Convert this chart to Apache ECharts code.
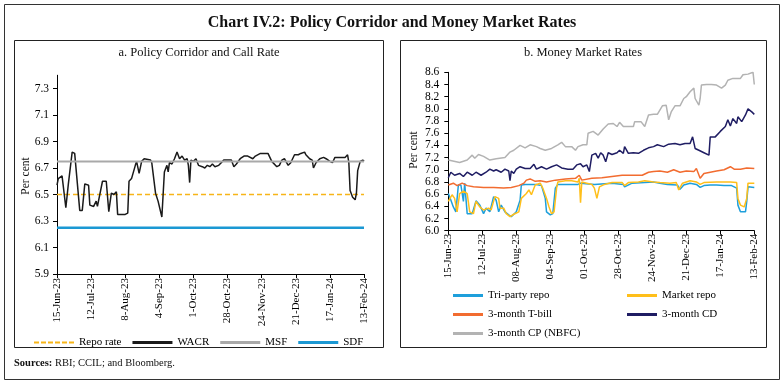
<!DOCTYPE html>
<html>
<head>
<meta charset="utf-8">
<script src="https://cdn.jsdelivr.net/npm/echarts@6/dist/echarts.min.js"></script>
<style>html,body{margin:0;padding:0;background:#fff;}#c{width:784px;height:385px;}</style>
</head>
<body>
<div id="c"></div>
<script>
// ---------- DATA ----------
const startDate = '2023-06-15';
const leftTickLabels = ['15-Jun-23','12-Jul-23','8-Aug-23','4-Sep-23','1-Oct-23','28-Oct-23','24-Nov-23','21-Dec-23','17-Jan-24','13-Feb-24'];
const rightTickLabels = ['15-Jun-23','12-Jul-23','08-Aug-23','04-Sep-23','01-Oct-23','28-Oct-23','24-Nov-23','21-Dec-23','17-Jan-24','13-Feb-24'];
const leftYTicks = [5.9, 6.1, 6.3, 6.5, 6.7, 6.9, 7.1, 7.3];

const repoRate = [['2023-06-15', 6.50], ['2024-02-13', 6.50]];
const msfRate  = [['2023-06-15', 6.75], ['2024-02-13', 6.75]];
const sdfRate  = [['2023-06-15', 6.25], ['2024-02-13', 6.25]];

const wacr = [
['2023-06-15',6.57],['2023-06-16',6.62],['2023-06-19',6.64],['2023-06-22',6.40],['2023-06-24',6.58],
['2023-06-27',6.82],['2023-06-29',6.81],['2023-07-03',6.38],['2023-07-05',6.38],['2023-07-07',6.58],
['2023-07-10',6.57],['2023-07-11',6.42],['2023-07-14',6.41],['2023-07-16',6.45],['2023-07-17',6.41],
['2023-07-21',6.60],['2023-07-24',6.60],['2023-07-26',6.37],['2023-07-28',6.51],['2023-07-30',6.50],
['2023-08-01',6.52],['2023-08-02',6.35],['2023-08-08',6.35],['2023-08-10',6.36],['2023-08-11',6.60],
['2023-08-13',6.62],['2023-08-16',6.72],['2023-08-17',6.75],['2023-08-19',6.66],['2023-08-21',6.75],
['2023-08-23',6.77],['2023-08-28',6.76],['2023-08-29',6.74],['2023-09-01',6.51],['2023-09-03',6.45],
['2023-09-06',6.33],['2023-09-08',6.67],['2023-09-10',6.72],['2023-09-11',6.67],['2023-09-12',6.74],
['2023-09-14',6.73],['2023-09-16',6.77],['2023-09-18',6.82],['2023-09-20',6.77],['2023-09-22',6.79],
['2023-09-24',6.76],['2023-09-26',6.77],['2023-09-27',6.72],['2023-09-28',6.59],['2023-09-29',6.76],
['2023-10-01',6.75],['2023-10-03',6.77],['2023-10-05',6.72],['2023-10-08',6.71],['2023-10-10',6.70],
['2023-10-12',6.72],['2023-10-14',6.71],['2023-10-16',6.73],['2023-10-18',6.71],['2023-10-21',6.72],
['2023-10-23',6.74],['2023-10-25',6.76],['2023-10-29',6.76],['2023-10-31',6.76],['2023-11-02',6.71],
['2023-11-04',6.73],['2023-11-07',6.77],['2023-11-10',6.79],['2023-11-13',6.79],['2023-11-17',6.77],
['2023-11-19',6.79],['2023-11-23',6.81],['2023-11-26',6.81],['2023-11-29',6.81],['2023-12-02',6.75],
['2023-12-06',6.71],['2023-12-08',6.72],['2023-12-10',6.76],['2023-12-12',6.77],['2023-12-15',6.72],
['2023-12-17',6.74],['2023-12-20',6.80],['2023-12-23',6.80],['2023-12-25',6.81],['2023-12-28',6.82],
['2023-12-29',6.80],['2024-01-01',6.77],['2024-01-03',6.76],['2024-01-04',6.70],['2024-01-06',6.74],
['2024-01-09',6.77],['2024-01-12',6.78],['2024-01-14',6.77],['2024-01-17',6.75],['2024-01-19',6.74],
['2024-01-21',6.78],['2024-01-25',6.78],['2024-01-29',6.78],['2024-01-31',6.80],['2024-02-01',6.74],
['2024-02-02',6.53],['2024-02-04',6.48],['2024-02-06',6.46],['2024-02-07',6.51],['2024-02-08',6.68],
['2024-02-10',6.75],['2024-02-12',6.76],['2024-02-13',6.75]
];

const triPartyRepo = [
['2023-06-15',6.61],['2023-06-16',6.56],['2023-06-19',6.39],['2023-06-21',6.31],['2023-06-23',6.75],
['2023-06-25',6.75],['2023-06-27',6.48],['2023-06-28',6.78],['2023-06-30',6.28],['2023-07-04',6.28],
['2023-07-07',6.49],['2023-07-10',6.42],['2023-07-13',6.28],['2023-07-15',6.37],['2023-07-18',6.31],
['2023-07-21',6.56],['2023-07-23',6.50],['2023-07-25',6.31],['2023-07-27',6.42],['2023-07-30',6.31],
['2023-08-02',6.26],['2023-08-04',6.23],['2023-08-08',6.31],['2023-08-11',6.50],['2023-08-12',6.75],
['2023-08-15',6.76],['2023-08-19',6.76],['2023-08-24',6.76],['2023-08-28',6.74],['2023-08-31',6.53],
['2023-09-01',6.31],['2023-09-04',6.26],['2023-09-06',6.28],['2023-09-08',6.70],['2023-09-10',6.76],
['2023-09-26',6.76],['2023-09-28',6.78],['2023-10-09',6.76],['2023-10-23',6.78],['2023-11-01',6.76],
['2023-11-02',6.72],['2023-11-08',6.78],['2023-11-18',6.79],['2023-11-25',6.80],['2023-11-30',6.78],
['2023-12-06',6.76],['2023-12-14',6.75],['2023-12-16',6.68],['2023-12-19',6.75],['2023-12-24',6.78],
['2023-12-29',6.76],['2024-01-01',6.71],['2024-01-04',6.74],['2024-01-09',6.75],['2024-01-14',6.75],
['2024-01-20',6.74],['2024-01-26',6.74],['2024-01-30',6.70],['2024-01-31',6.42],['2024-02-02',6.31],
['2024-02-06',6.31],['2024-02-07',6.48],['2024-02-08',6.72],['2024-02-13',6.71]
];

const marketRepo = [
['2023-06-15',6.48],['2023-06-18',6.59],['2023-06-20',6.53],['2023-06-22',6.31],['2023-06-24',6.61],
['2023-06-27',6.65],['2023-06-30',6.61],['2023-07-02',6.31],['2023-07-05',6.28],['2023-07-07',6.48],
['2023-07-10',6.39],['2023-07-13',6.34],['2023-07-17',6.37],['2023-07-19',6.34],['2023-07-22',6.56],
['2023-07-25',6.53],['2023-07-26',6.37],['2023-07-29',6.37],['2023-07-31',6.28],['2023-08-03',6.23],
['2023-08-06',6.27],['2023-08-10',6.31],['2023-08-12',6.53],['2023-08-16',6.61],['2023-08-18',6.67],
['2023-08-20',6.59],['2023-08-23',6.75],['2023-08-27',6.78],['2023-08-29',6.70],['2023-09-01',6.53],
['2023-09-03',6.39],['2023-09-05',6.28],['2023-09-07',6.31],['2023-09-09',6.70],['2023-09-10',6.80],
['2023-09-16',6.82],['2023-09-21',6.82],['2023-09-26',6.80],['2023-09-27',6.86],['2023-09-28',6.46],
['2023-09-29',6.80],['2023-10-07',6.76],['2023-10-09',6.70],['2023-10-11',6.53],['2023-10-12',6.56],
['2023-10-13',6.72],['2023-10-17',6.76],['2023-10-23',6.79],['2023-10-31',6.79],['2023-11-02',6.74],
['2023-11-05',6.79],['2023-11-13',6.80],['2023-11-18',6.82],['2023-11-25',6.80],['2023-11-30',6.79],
['2023-12-08',6.78],['2023-12-13',6.79],['2023-12-15',6.67],['2023-12-18',6.78],['2023-12-24',6.82],
['2023-12-29',6.80],['2024-01-01',6.76],['2024-01-04',6.79],['2024-01-14',6.80],['2024-01-25',6.80],
['2024-01-30',6.79],['2024-01-31',6.53],['2024-02-02',6.42],['2024-02-05',6.39],['2024-02-07',6.53],
['2024-02-08',6.78],['2024-02-13',6.78]
];

const tBill3m = [
['2023-06-15',6.75],['2023-06-19',6.78],['2023-06-22',6.74],['2023-06-26',6.78],['2023-06-30',6.74],
['2023-07-05',6.72],['2023-07-13',6.71],['2023-07-21',6.71],['2023-07-29',6.70],['2023-08-04',6.71],
['2023-08-10',6.74],['2023-08-14',6.78],['2023-08-16',6.83],['2023-08-19',6.85],['2023-08-23',6.81],
['2023-08-27',6.82],['2023-09-01',6.80],['2023-09-08',6.83],['2023-09-16',6.85],['2023-09-24',6.86],
['2023-09-27',6.91],['2023-09-29',6.83],['2023-10-07',6.86],['2023-10-15',6.87],['2023-10-23',6.89],
['2023-10-31',6.91],['2023-11-08',6.91],['2023-11-16',6.91],['2023-11-21',6.96],['2023-11-25',6.97],
['2023-11-30',6.98],['2023-12-06',6.96],['2023-12-11',7.00],['2023-12-16',6.96],['2023-12-21',6.98],
['2023-12-27',6.97],['2023-12-29',7.02],['2024-01-01',6.86],['2024-01-04',6.94],['2024-01-09',6.96],
['2024-01-14',6.98],['2024-01-20',7.00],['2024-01-25',7.05],['2024-01-28',7.01],['2024-02-02',7.01],
['2024-02-07',7.03],['2024-02-13',7.02]
];

const cd3m = [
['2023-06-15',6.87],['2023-06-17',6.96],['2023-06-20',6.91],['2023-06-24',6.94],['2023-06-27',6.89],
['2023-06-30',6.96],['2023-07-04',6.91],['2023-07-07',6.96],['2023-07-11',6.91],['2023-07-15',6.96],
['2023-07-18',7.01],['2023-07-21',6.98],['2023-07-23',7.00],['2023-07-27',6.96],['2023-07-30',7.01],
['2023-08-02',6.98],['2023-08-03',6.82],['2023-08-04',6.98],['2023-08-06',6.94],['2023-08-08',7.01],
['2023-08-11',7.05],['2023-08-15',7.02],['2023-08-19',7.02],['2023-08-22',7.09],['2023-08-24',7.01],
['2023-08-28',7.05],['2023-09-01',7.01],['2023-09-05',7.05],['2023-09-09',7.08],['2023-09-13',7.03],
['2023-09-18',7.01],['2023-09-22',7.01],['2023-09-25',7.08],['2023-09-28',7.10],['2023-09-30',7.05],
['2023-10-03',7.08],['2023-10-05',6.97],['2023-10-07',7.24],['2023-10-10',7.27],['2023-10-12',7.19],
['2023-10-14',7.28],['2023-10-16',7.24],['2023-10-18',7.13],['2023-10-20',7.28],['2023-10-23',7.25],
['2023-10-27',7.28],['2023-10-29',7.32],['2023-11-01',7.27],['2023-11-02',7.38],['2023-11-05',7.27],
['2023-11-09',7.28],['2023-11-13',7.27],['2023-11-17',7.32],['2023-11-21',7.36],['2023-11-25',7.38],
['2023-11-28',7.41],['2023-12-03',7.38],['2023-12-07',7.42],['2023-12-12',7.43],['2023-12-16',7.41],
['2023-12-20',7.43],['2023-12-24',7.43],['2023-12-26',7.54],['2023-12-28',7.35],['2023-12-31',7.32],
['2024-01-04',7.28],['2024-01-08',7.24],['2024-01-09',7.54],['2024-01-10',7.57],['2024-01-13',7.54],
['2024-01-17',7.63],['2024-01-21',7.71],['2024-01-23',7.82],['2024-01-25',7.72],['2024-01-27',7.84],
['2024-01-30',7.76],['2024-01-31',7.87],['2024-02-03',7.79],['2024-02-06',7.90],['2024-02-08',8.00],
['2024-02-11',7.95],['2024-02-13',7.91]
];

const cpNbfc3m = [
['2023-06-15',7.16],['2023-06-24',7.12],['2023-06-30',7.16],['2023-07-04',7.24],['2023-07-06',7.19],
['2023-07-09',7.25],['2023-07-13',7.22],['2023-07-18',7.16],['2023-07-23',7.18],['2023-07-30',7.20],
['2023-08-03',7.29],['2023-08-06',7.32],['2023-08-11',7.40],['2023-08-15',7.36],['2023-08-19',7.41],
['2023-08-24',7.38],['2023-08-27',7.35],['2023-08-31',7.32],['2023-09-05',7.35],['2023-09-10',7.41],
['2023-09-13',7.45],['2023-09-16',7.38],['2023-09-21',7.38],['2023-09-24',7.32],['2023-09-26',7.38],
['2023-09-30',7.41],['2023-10-03',7.41],['2023-10-04',7.60],['2023-10-08',7.63],['2023-10-12',7.57],
['2023-10-16',7.67],['2023-10-20',7.75],['2023-10-24',7.76],['2023-10-27',7.71],['2023-10-29',7.78],
['2023-11-01',7.71],['2023-11-05',7.71],['2023-11-09',7.71],['2023-11-10',7.79],['2023-11-15',7.79],
['2023-11-18',7.71],['2023-11-21',7.90],['2023-11-25',7.91],['2023-11-28',7.91],['2023-12-02',8.05],
['2023-12-05',8.06],['2023-12-07',7.82],['2023-12-09',7.95],['2023-12-12',8.05],['2023-12-16',8.05],
['2023-12-19',8.17],['2023-12-21',8.20],['2023-12-24',8.28],['2023-12-27',8.34],['2023-12-28',8.17],
['2023-12-31',8.06],['2024-01-01',8.17],['2024-01-02',8.39],['2024-01-06',8.40],['2024-01-10',8.40],
['2024-01-14',8.39],['2024-01-18',8.34],['2024-01-21',8.39],['2024-01-23',8.47],['2024-01-27',8.50],
['2024-02-02',8.50],['2024-02-04',8.56],['2024-02-08',8.57],['2024-02-12',8.60],['2024-02-13',8.40]
];

// ---------- BUILD ----------
const FONT = '"Liberation Serif", "DejaVu Serif", serif';
const DAY = 86400000;
const t0 = Date.parse(startDate);
const toXY = arr => arr.map(p => [Math.round((Date.parse(p[0]) - t0) / DAY), p[1]]);
const lastDay = Math.round((Date.parse('2024-02-13') - t0) / DAY);
const step = 27;

function xAxisCfg(gridIndex, labels, margin) {
  return {
    type: 'value', gridIndex, min: 0, max: lastDay, interval: step,
    axisLine: { show: true, lineStyle: { color: '#000', width: 1 } },
    axisTick: { show: true, length: 4, lineStyle: { color: '#000' } },
    axisLabel: {
      rotate: 90, margin, fontFamily: FONT, fontSize: 11, color: '#000',
      formatter: v => labels[Math.round(v / step)] || ''
    },
    splitLine: { show: false }
  };
}

const lineS = (name, data, color, width, xi, extra) => Object.assign({
  name, type: 'line', data: toXY(data), xAxisIndex: xi, yAxisIndex: xi,
  symbol: 'none', showSymbol: false, silent: true,
  lineStyle: { color, width }, itemStyle: { color }
}, extra || {});

const legendText = { fontFamily: FONT, fontSize: 11, color: '#000' };
const dashIcon = 'path://M0 0H5V2H0Z M7 0H12V2H7Z M14 0H19V2H14Z M21 0H26V2H21Z M28 0H33V2H28Z M35 0H40V2H35Z';

const option = {
  animation: false,
  backgroundColor: '#fff',
  grid: [
    { left: 57, right: 420, top: 75.25, bottom: 111, containLabel: false },
    { left: 448.3, right: 29.7, top: 72.3, bottom: 154.3, containLabel: false }
  ],
  xAxis: [xAxisCfg(0, leftTickLabels, 4), xAxisCfg(1, rightTickLabels, 3)],
  yAxis: [
    {
      type: 'value', gridIndex: 0, min: 5.9, max: 7.4,
      axisLine: { show: true, lineStyle: { color: '#000' } },
      axisTick: { show: true, length: 4, customValues: leftYTicks, lineStyle: { color: '#000' } },
      axisLabel: { customValues: leftYTicks, formatter: v => Number(v).toFixed(1), margin: 8,
        fontFamily: FONT, fontSize: 11.5, color: '#000' },
      splitLine: { show: false }
    },
    {
      type: 'value', gridIndex: 1, min: 6.0, max: 8.6, interval: 0.2,
      axisLine: { show: true, lineStyle: { color: '#000' } },
      axisTick: { show: true, length: 4, lineStyle: { color: '#000' } },
      axisLabel: { formatter: v => Number(v).toFixed(1), margin: 9,
        fontFamily: FONT, fontSize: 11.5, color: '#000' },
      splitLine: { show: false }
    }
  ],
  legend: [
    { left: 34, top: 337, itemWidth: 40, itemHeight: 3, itemGap: 11, padding: 0, icon: 'rect',
      data: [{ name: 'Repo rate', icon: dashIcon }, 'WACR', 'MSF', 'SDF'], textStyle: legendText,
      selectedMode: false },
    { left: 453, top: 290, orient: 'vertical', itemWidth: 30, itemHeight: 3, itemGap: 8, padding: 0, icon: 'rect',
      data: ['Tri-party repo', '3-month T-bill', '3-month CP (NBFC)'], textStyle: legendText,
      selectedMode: false },
    { left: 627, top: 290, orient: 'vertical', itemWidth: 30, itemHeight: 3, itemGap: 8, padding: 0, icon: 'rect',
      data: ['Market repo', '3-month CD'], textStyle: legendText,
      selectedMode: false }
  ],
  series: [
    lineS('Repo rate', repoRate, '#F7B518', 1.6, 0, { lineStyle: { color: '#F7B518', width: 1.6, type: [5, 3] } }),
    lineS('WACR', wacr, '#1a1a1a', 1.5, 0),
    lineS('MSF', msfRate, '#A9A9A9', 2, 0),
    lineS('SDF', sdfRate, '#1B98D3', 2.5, 0),
    lineS('Tri-party repo', triPartyRepo, '#1E9FDB', 1.5, 1),
    lineS('Market repo', marketRepo, '#FFBF1A', 1.5, 1),
    lineS('3-month T-bill', tBill3m, '#F26C30', 1.5, 1),
    lineS('3-month CD', cd3m, '#1F1D63', 1.5, 1),
    lineS('3-month CP (NBFC)', cpNbfc3m, '#B3B3B3', 1.5, 1)
  ],
  graphic: [
    { type: 'rect', shape: { x: 4.5, y: 4.5, width: 775, height: 375 }, style: { fill: 'none', stroke: '#333', lineWidth: 1 }, silent: true },
    { type: 'rect', shape: { x: 14.5, y: 40.5, width: 369, height: 307 }, style: { fill: 'none', stroke: '#222', lineWidth: 1 }, silent: true },
    { type: 'rect', shape: { x: 400.5, y: 40.5, width: 366, height: 307 }, style: { fill: 'none', stroke: '#222', lineWidth: 1 }, silent: true },
    { type: 'text', x: 392, y: 23, silent: true,
      style: { text: 'Chart IV.2: Policy Corridor and Money Market Rates', font: 'bold 16px ' + FONT, fill: '#111', align: 'center', verticalAlign: 'middle' } },
    { type: 'text', x: 199, y: 53, silent: true,
      style: { text: 'a. Policy Corridor and Call Rate', font: '12.5px ' + FONT, fill: '#111', align: 'center', verticalAlign: 'middle' } },
    { type: 'text', x: 583, y: 53, silent: true,
      style: { text: 'b. Money Market Rates', font: '12.5px ' + FONT, fill: '#111', align: 'center', verticalAlign: 'middle' } },
    { type: 'text', x: 26, y: 176, rotation: Math.PI / 2, silent: true,
      style: { text: 'Per cent', font: '11.5px ' + FONT, fill: '#111', align: 'center', verticalAlign: 'middle' } },
    { type: 'text', x: 414, y: 150, rotation: Math.PI / 2, silent: true,
      style: { text: 'Per cent', font: '11.5px ' + FONT, fill: '#111', align: 'center', verticalAlign: 'middle' } },
    { type: 'text', x: 14, y: 363, silent: true,
      style: { text: '{b|Sources:} RBI; CCIL; and Bloomberg.', font: '10.5px ' + FONT, fill: '#111', align: 'left', verticalAlign: 'middle',
        rich: { b: { font: 'bold 10.5px ' + FONT, fill: '#111' } } } }
  ]
};

const chart = echarts.init(document.getElementById('c'), null, { renderer: 'canvas' });
chart.setOption(option);
</script>
</body>
</html>
